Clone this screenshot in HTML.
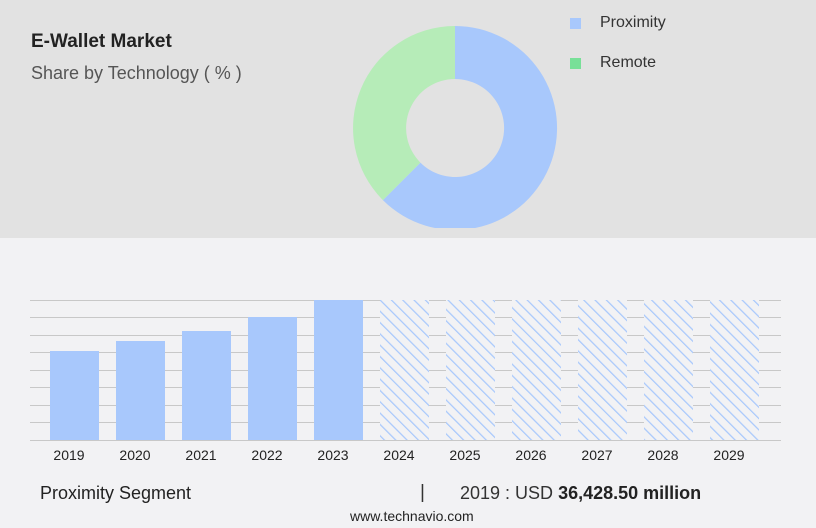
<!DOCTYPE html><html><head><style>
body{margin:0;width:816px;height:528px;background:#f2f2f4;font-family:"Liberation Sans",sans-serif;position:relative;overflow:hidden}
.t{position:absolute;white-space:nowrap}
</style></head><body>
<div style="position:absolute;left:0;top:0;width:816px;height:238px;background:#e2e2e2"></div>
<div class="t" style="left:31px;top:31px;font-size:19px;font-weight:bold;color:#222">E-Wallet Market</div>
<div class="t" style="left:31px;top:63px;font-size:18px;color:#555">Share by Technology ( % )</div>
<svg width="816" height="528" style="position:absolute;left:0;top:0">
<defs><pattern id="h" width="8" height="8" patternUnits="userSpaceOnUse" patternTransform="rotate(-45)"><rect width="8" height="8" fill="#f2f2f4"/><line x1="0" y1="0" x2="0" y2="8" stroke="#a8c8fc" stroke-width="2.5"/></pattern>
<clipPath id="c"><rect x="0" y="0" width="816" height="228"/></clipPath></defs>
<g clip-path="url(#c)">
<path d="M455 26 A102 102 0 1 1 382.9 200.1 L420.4 162.6 A49 49 0 1 0 455 79 Z" fill="#a8c8fc"/>
<path d="M382.9 200.1 A102 102 0 0 1 455 26 L455 79 A49 49 0 0 0 420.4 162.6 Z" fill="#b6ecb8"/>
</g>
<rect x="570" y="18" width="11" height="11" fill="#a8c8fc"/>
<rect x="570" y="58" width="11" height="11" fill="#78e098"/>
<g stroke="#c8c8c8" stroke-width="1">
<line x1="30" x2="781" y1="300.5" y2="300.5"/><line x1="30" x2="781" y1="317.5" y2="317.5"/><line x1="30" x2="781" y1="335.5" y2="335.5"/><line x1="30" x2="781" y1="352.5" y2="352.5"/><line x1="30" x2="781" y1="370.5" y2="370.5"/><line x1="30" x2="781" y1="387.5" y2="387.5"/><line x1="30" x2="781" y1="405.5" y2="405.5"/><line x1="30" x2="781" y1="422.5" y2="422.5"/><line x1="30" x2="781" y1="440.5" y2="440.5"/>
</g>
<g fill="#a8c8fc">
<rect x="50" y="351" width="49" height="89"/><rect x="116" y="341" width="49" height="99"/><rect x="182" y="331" width="49" height="109"/><rect x="248" y="317" width="49" height="123"/><rect x="314" y="300" width="49" height="140"/>
</g>
<g fill="url(#h)">
<rect x="380" y="300" width="49" height="140"/><rect x="446" y="300" width="49" height="140"/><rect x="512" y="300" width="49" height="140"/><rect x="578" y="300" width="49" height="140"/><rect x="644" y="300" width="49" height="140"/><rect x="710" y="300" width="49" height="140"/>
</g>
<g font-family="Liberation Sans" font-size="14" fill="#222" text-anchor="middle">
<text x="69" y="460">2019</text><text x="135" y="460">2020</text><text x="201" y="460">2021</text><text x="267" y="460">2022</text><text x="333" y="460">2023</text><text x="399" y="460">2024</text><text x="465" y="460">2025</text><text x="531" y="460">2026</text><text x="597" y="460">2027</text><text x="663" y="460">2028</text><text x="729" y="460">2029</text>
</g>
</svg>
<div class="t" style="left:600px;top:14px;font-size:16px;color:#333">Proximity</div>
<div class="t" style="left:600px;top:54px;font-size:16px;color:#333">Remote</div>
<div class="t" style="left:40px;top:483px;font-size:18px;color:#222">Proximity Segment</div>
<div class="t" style="left:420px;top:482px;font-size:19px;color:#333">|</div>
<div class="t" style="left:460px;top:483px;font-size:18px;color:#333">2019 : USD <b style="color:#222">36,428.50 million</b></div>
<div class="t" style="left:350px;top:508px;font-size:14px;color:#222">www.technavio.com</div>
</body></html>
